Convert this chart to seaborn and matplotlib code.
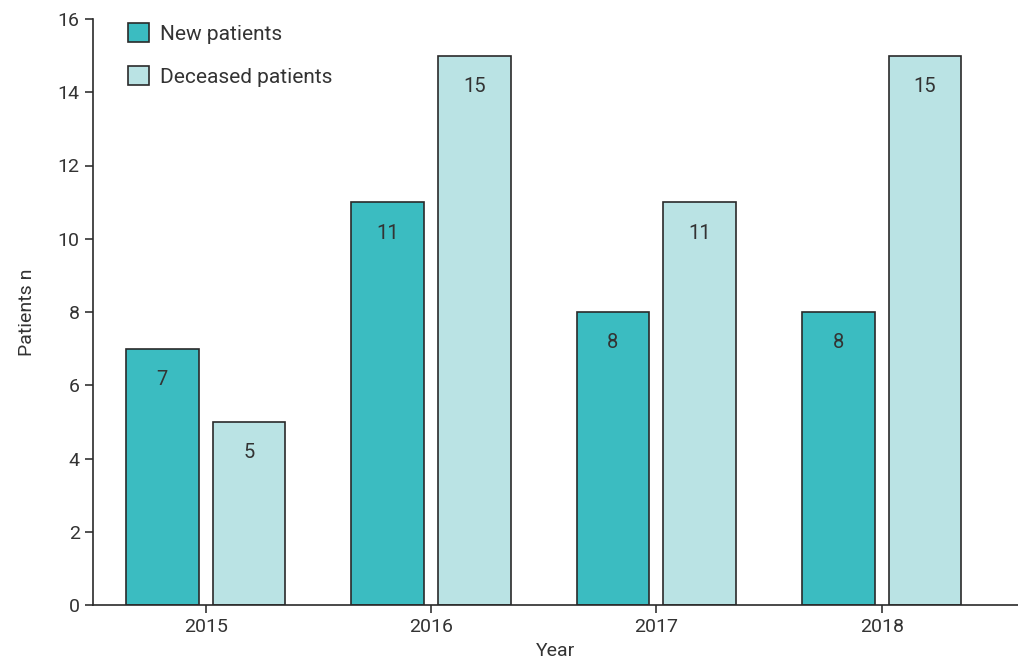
import pandas as pd
import seaborn as sns
import matplotlib.pyplot as plt

years = ["2015", "2016", "2017", "2018"]
new_patients = [7, 11, 8, 8]
deceased_patients = [5, 15, 11, 15]
series_names = ["New patients", "Deceased patients"]

data = pd.DataFrame({
    "Year": years * 2,
    "Patients": new_patients + deceased_patients,
    "Group": [series_names[0]] * 4 + [series_names[1]] * 4,
})

sns.set_style("white")
plt.rcParams["font.family"] = ["Roboto", "DejaVu Sans"]
text_col = "#333333"

fig = plt.figure(figsize=(10.18, 6.62), dpi=100)
ax = fig.add_axes([93 / 1018, 1 - 605 / 662, 1 - 93 / 1018, (605 - 19) / 662])

sns.barplot(data=data, x="Year", y="Patients", hue="Group", ax=ax,
            palette=["#3BBCC1", "#BAE3E4"], width=0.77, gap=0.16,
            edgecolor="#2a2a2a", linewidth=1.2, saturation=1)

# value labels inside bars
for cont in ax.containers:
    for bar in cont:
        h = bar.get_height()
        ax.annotate(f"{int(h)}", (bar.get_x() + bar.get_width() / 2, h),
                    xytext=(0, -31), textcoords="offset pixels",
                    ha="center", va="center", fontsize=14.5, color=text_col)

ax.set_ylim(0, 16)
ax.set_yticks(range(0, 17, 2))
ax.set_xlim(-0.50, 3.605)
ax.set_xlabel("Year", fontsize=14, color=text_col, labelpad=4)
ax.set_ylabel("Patients n", fontsize=14, color=text_col, labelpad=16)
ax.tick_params(axis="both", labelsize=14, colors=text_col, length=6, width=1.2,
               direction="out", left=True, bottom=True)
for s in ["top", "right"]:
    ax.spines[s].set_visible(False)
for s in ["left", "bottom"]:
    ax.spines[s].set_color("#2a2a2a")
    ax.spines[s].set_linewidth(1.2)

leg = ax.legend(loc="upper left", bbox_to_anchor=(0.018, 1.025), frameon=False,
                fontsize=15, handlelength=1.0, handleheight=1.0,
                labelspacing=1.1, handletextpad=0.5)
for t in leg.get_texts():
    t.set_color(text_col)

fig.savefig("out.png", dpi=100)
